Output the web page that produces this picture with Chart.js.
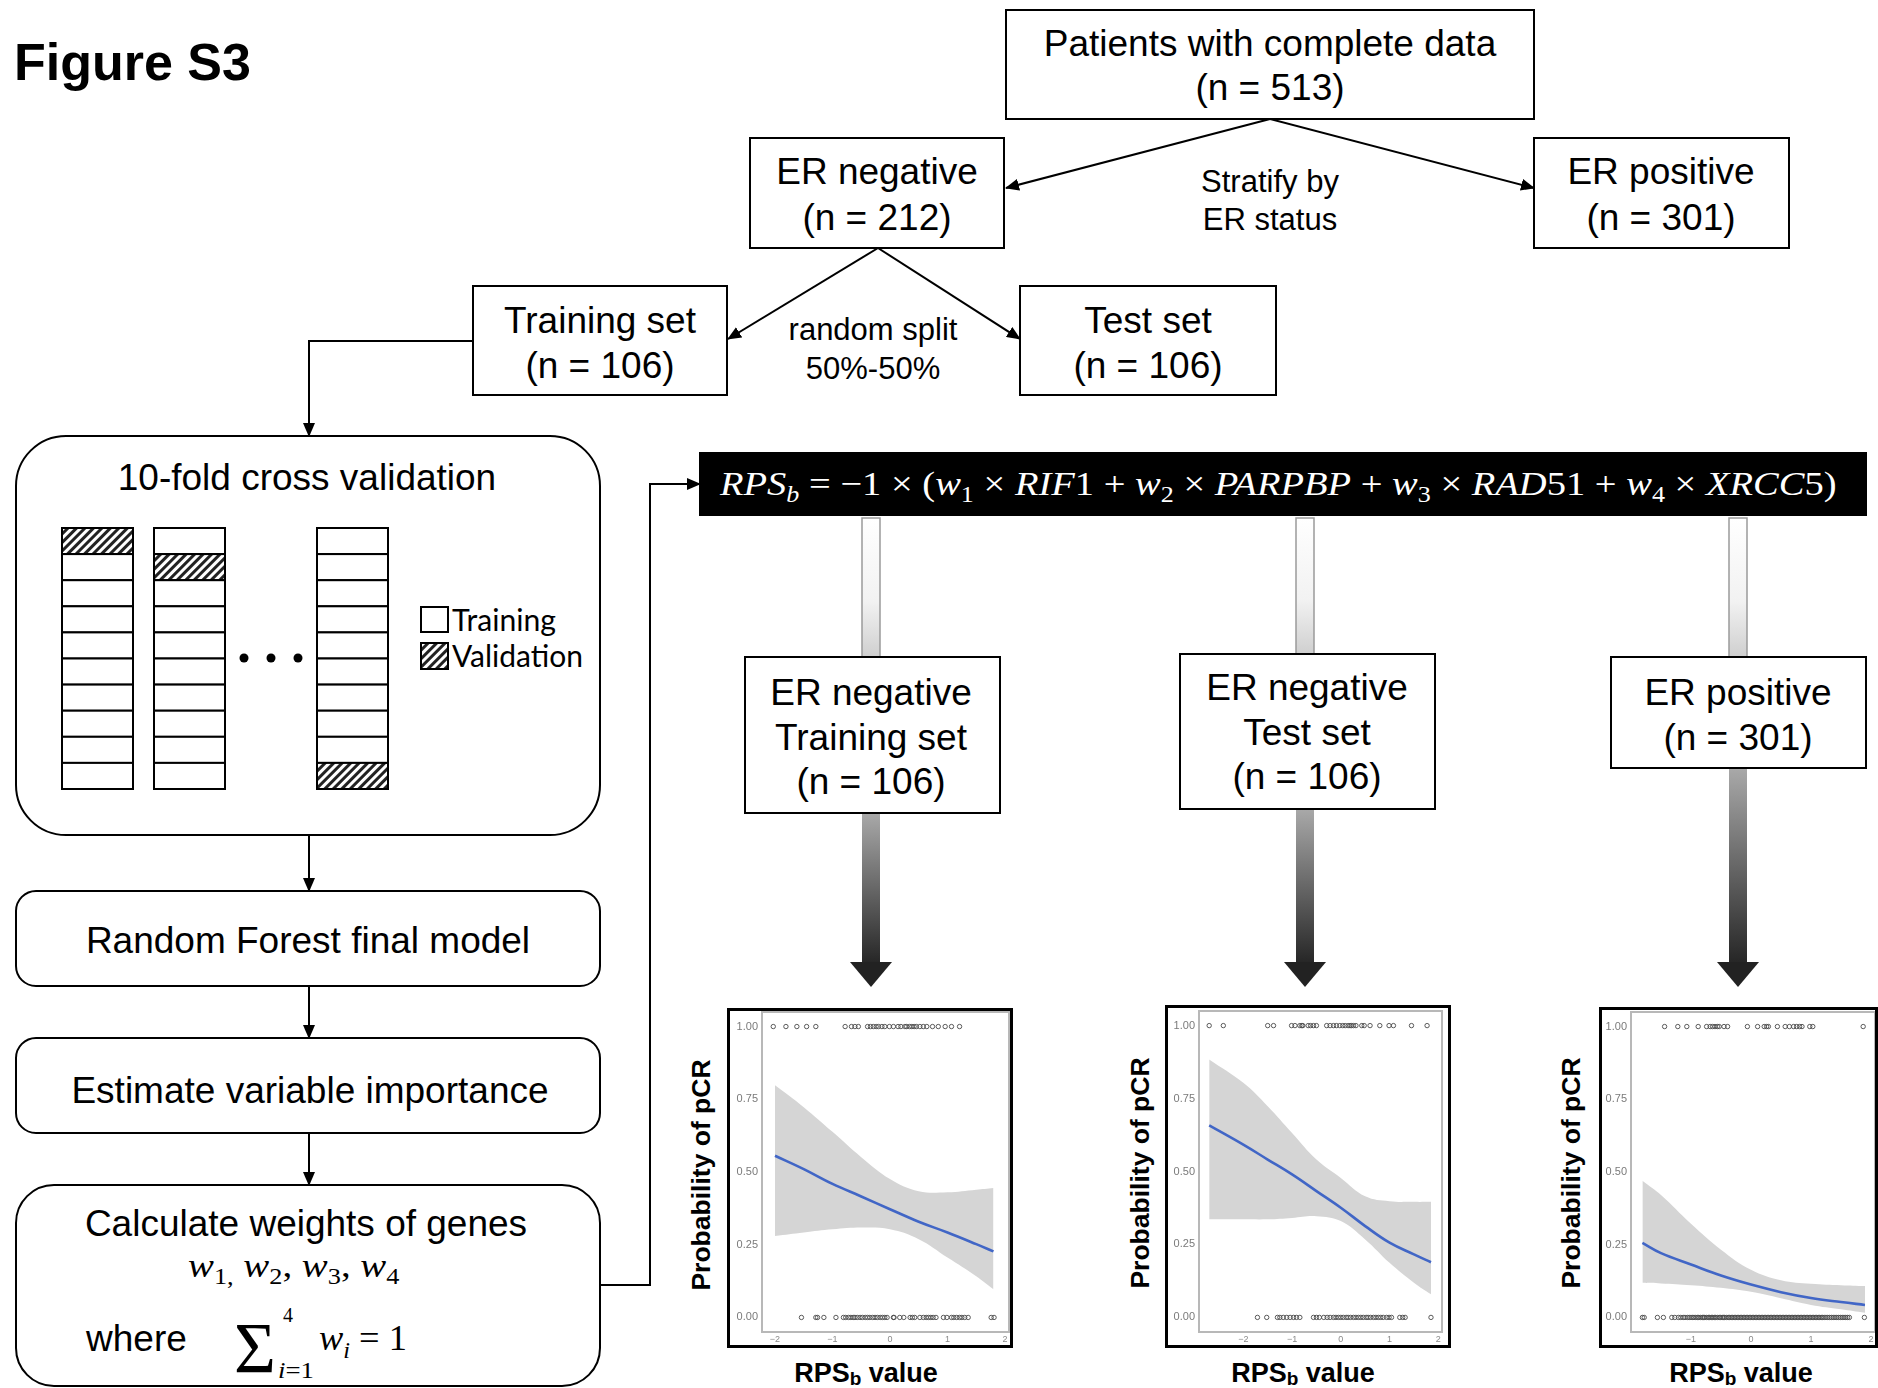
<!DOCTYPE html>
<html>
<head>
<meta charset="utf-8">
<script src="https://cdn.jsdelivr.net/npm/chart.js"></script>
<title>Figure S3</title>
<style>
    body { margin: 0; background: #fff; }
    #page { position: relative; width: 1878px; height: 1388px; overflow: hidden; font-family: "Liberation Sans", Arial, sans-serif; }
    #flow { position: absolute; left: 0; top: 0; }
    .frame { position: absolute; border: 3px solid #000; box-sizing: border-box; background: #fff; }
    .frame canvas { display: block; }
    .ytitle { position: absolute; font-weight: bold; font-size: 26.5px; white-space: nowrap; transform: translate(-50%, -50%) rotate(-90deg); }
    .xtitle { position: absolute; font-weight: bold; font-size: 27px; white-space: nowrap; transform: translate(-50%, -50%); }
    .xtitle span { font-size: 19px; position: relative; top: 3px; }
</style>
</head>
<body>
<div id="page">
<svg id="flow" width="1878" height="1388" xmlns="http://www.w3.org/2000/svg">
    <defs>
        <marker id="ah" markerWidth="14" markerHeight="12" refX="13" refY="6" orient="auto" markerUnits="userSpaceOnUse">
            <path d="M0,0 L14,6 L0,12 z" fill="#000"/>
        </marker>
        <pattern id="hatch" width="6" height="6" patternUnits="userSpaceOnUse" patternTransform="rotate(45)">
            <rect width="6" height="6" fill="#fff"/>
            <rect x="0" y="0" width="3" height="6" fill="#222"/>
        </pattern>
        <linearGradient id="upGrad" x1="0" y1="0" x2="0" y2="1">
            <stop offset="0" stop-color="#ffffff"/>
            <stop offset="0.6" stop-color="#f2f2f2"/>
            <stop offset="1" stop-color="#cfcfcf"/>
        </linearGradient>
        <linearGradient id="downGrad" x1="0" y1="0" x2="0" y2="1">
            <stop offset="0" stop-color="#a9a9a9"/>
            <stop offset="1" stop-color="#262626"/>
        </linearGradient>
    </defs>
    <g id="shapes" fill="#fff" stroke="#000" stroke-width="2"></g>
    <g id="texts" font-family="Liberation Sans, Arial, sans-serif" fill="#000"></g>
</svg>
</div>

<script>
// ---- data ----
const yTickValues = [0, 0.25, 0.5, 0.75, 1];

// ER negative, training set
const trainTicksX = [-2, -1, 0, 1, 2];
const trainCurveX = [-2.0, -1.5, -1.0, -0.5, 0.0, 0.5, 1.0, 1.5, 1.8];
const trainFit   = [0.556, 0.510, 0.459, 0.416, 0.372, 0.329, 0.292, 0.252, 0.227];
const trainUpper = [0.798, 0.723, 0.638, 0.551, 0.476, 0.434, 0.430, 0.439, 0.445];
const trainLower = [0.280, 0.292, 0.303, 0.309, 0.303, 0.269, 0.206, 0.142, 0.097];
const trainPcrX = [-2.03, -1.81, -1.62, -1.45, -1.29, -0.78, -0.67, -0.61, -0.55, -0.39, -0.34, -0.29,
    -0.24, -0.20, -0.14, -0.09, -0.01, 0.06, 0.14, 0.19, 0.26, 0.29, 0.34, 0.38, 0.42, 0.46, 0.52,
    0.58, 0.64, 0.74, 0.84, 0.96, 1.07, 1.21];
const trainNoPcrX = [-1.54, -1.29, -1.26, -1.15, -0.94, -0.81, -0.77, -0.72, -0.68, -0.64, -0.61, -0.57,
    -0.52, -0.48, -0.43, -0.39, -0.35, -0.30, -0.26, -0.22, -0.17, -0.13, -0.09, -0.05, 0.06, 0.07,
    0.17, 0.24, 0.35, 0.39, 0.43, 0.52, 0.58, 0.63, 0.67, 0.71, 0.75, 0.80, 0.93, 0.99, 1.07, 1.11,
    1.16, 1.21, 1.25, 1.30, 1.36, 1.76, 1.81];

// ER negative, test set
const testTicksX = [-2, -1, 0, 1, 2];
const testCurveX = [-2.7, -2.0, -1.5, -1.0, -0.5, 0.0, 0.5, 1.0, 1.5, 1.85];
const testFit   = [0.658, 0.592, 0.541, 0.490, 0.433, 0.376, 0.313, 0.256, 0.216, 0.189];
const testUpper = [0.884, 0.804, 0.724, 0.632, 0.541, 0.478, 0.415, 0.398, 0.396, 0.396];
const testLower = [0.336, 0.336, 0.336, 0.341, 0.347, 0.330, 0.267, 0.187, 0.119, 0.079];
const testPcrX = [-2.70, -2.41, -1.50, -1.38, -1.01, -0.94, -0.84, -0.80, -0.78, -0.67, -0.62, -0.56,
    -0.50, -0.29, -0.22, -0.15, -0.09, -0.02, 0.04, 0.09, 0.15, 0.19, 0.22, 0.26, 0.31, 0.43, 0.48,
    0.60, 0.80, 0.99, 1.08, 1.45, 1.77];
const testNoPcrX = [-1.71, -1.52, -1.30, -1.25, -1.18, -1.11, -1.04, -0.97, -0.91, -0.84, -0.56, -0.50,
    -0.44, -0.35, -0.28, -0.22, -0.15, -0.10, -0.05, 0.00, 0.05, 0.11, 0.15, 0.20, 0.26, 0.31, 0.36,
    0.41, 0.46, 0.52, 0.56, 0.61, 0.67, 0.72, 0.77, 0.82, 0.87, 0.94, 0.99, 1.04, 1.21, 1.27, 1.32, 1.85];

// ER positive
const posTicksX = [-1, 0, 1, 2];
const posCurveX = [-1.81, -1.5, -1.0, -0.5, 0.0, 0.5, 1.0, 1.5, 1.9];
const posFit   = [0.256, 0.221, 0.182, 0.144, 0.113, 0.087, 0.067, 0.053, 0.043];
const posUpper = [0.470, 0.421, 0.322, 0.233, 0.164, 0.128, 0.116, 0.111, 0.108];
const posLower = [0.119, 0.117, 0.111, 0.102, 0.088, 0.066, 0.043, 0.028, 0.016];
const posPcrX = [-1.44, -1.22, -1.07, -0.88, -0.74, -0.68, -0.64, -0.60, -0.56, -0.53, -0.45, -0.39,
    -0.06, 0.11, 0.22, 0.26, 0.29, 0.44, 0.57, 0.64, 0.71, 0.76, 0.81, 0.85, 0.98, 1.03, 1.87];
const posNoPcrX = [-1.81, -1.78, -1.56, -1.46, -1.32, -1.27, -1.21, -1.17, -1.13, -1.10, -1.06, -1.03,
    -1.00, -0.97, -0.95, -0.92, -0.89, -0.87, -0.84, -0.81, -0.79, -0.77, -0.74, -0.71, -0.69, -0.66,
    -0.64, -0.61, -0.59, -0.56, -0.53, -0.51, -0.48, -0.46, -0.44, -0.41, -0.38, -0.36, -0.33, -0.31,
    -0.28, -0.26, -0.23, -0.21, -0.18, -0.16, -0.13, -0.11, -0.08, -0.06, -0.03, -0.01, 0.02, 0.04,
    0.07, 0.09, 0.12, 0.14, 0.17, 0.19, 0.22, 0.24, 0.27, 0.29, 0.32, 0.34, 0.37, 0.39, 0.42, 0.44,
    0.47, 0.49, 0.52, 0.54, 0.57, 0.59, 0.62, 0.64, 0.67, 0.69, 0.72, 0.74, 0.77, 0.79, 0.82, 0.84,
    0.87, 0.89, 0.92, 0.94, 0.97, 0.99, 1.02, 1.04, 1.07, 1.09, 1.12, 1.14, 1.17, 1.19, 1.22, 1.25,
    1.28, 1.31, 1.34, 1.37, 1.40, 1.43, 1.46, 1.49, 1.52, 1.55, 1.58, 1.61, 1.64, 1.89];

// ---- flowchart drawing ----
const NS = 'http://www.w3.org/2000/svg';
const shapes = document.getElementById('shapes');
const texts = document.getElementById('texts');

function el(parent, tag, attrs, content) {
    const e = document.createElementNS(NS, tag);
    for (const k in attrs) e.setAttribute(k, attrs[k]);
    if (content !== undefined) e.innerHTML = content;
    parent.appendChild(e);
    return e;
}
function box(x, y, w, h, r) {
    el(shapes, 'rect', {x, y, width: w, height: h, rx: r || 0, ry: r || 0});
}
function arrow(points) {
    el(shapes, 'polyline', {points: points.map(p => p.join(',')).join(' '), fill: 'none', 'marker-end': 'url(#ah)'});
}
function label(x, cy, str, size, extra) {
    const attrs = Object.assign({x, y: cy + size * 0.36, 'font-size': size, 'text-anchor': 'middle'}, extra || {});
    return el(texts, 'text', attrs, str);
}
// serif math: parts are [text, italic, subscript]; stretched to a target width if given
function mathText(x, y, size, parts, targetW, fill) {
    let cur = 0, html = '';
    parts.forEach(p => {
        const off = p[2] ? Math.round(size * 0.22) : 0;
        const fs = p[2] ? Math.round(size * 0.68) : size;
        html += `<tspan dy="${off - cur}" font-size="${fs}"${p[1] ? ' font-style="italic"' : ''}>${p[0]}</tspan>`;
        cur = off;
    });
    const t = el(texts, 'text', {x, y, 'font-size': size, 'font-family': 'Liberation Serif, serif',
        fill: fill || '#000', style: 'white-space:pre'}, html);
    if (targetW) {
        const w = t.getBBox().width;
        const s = targetW / w;
        t.setAttribute('transform', `translate(${x} 0) scale(${s} 1) translate(${-x} 0)`);
    }
    return t;
}

// top part
box(1006, 10, 528, 109);
box(750, 138, 254, 110);
box(1534, 138, 255, 110);
box(473, 286, 254, 109);
box(1020, 286, 256, 109);
arrow([[1270, 119], [1006, 188]]);
arrow([[1270, 119], [1534, 188]]);
arrow([[878, 248], [728, 339]]);
arrow([[878, 248], [1020, 339]]);
arrow([[473, 341], [309, 341], [309, 436]]);

// left column
box(16, 436, 584, 399, 50);
box(16, 891, 584, 95, 20);
box(16, 1038, 584, 95, 20);
box(16, 1185, 584, 201, 38);
arrow([[309, 835], [309, 891]]);
arrow([[309, 986], [309, 1038]]);
arrow([[309, 1133], [309, 1185]]);
arrow([[600, 1285], [650, 1285], [650, 484], [700, 484]]);

// cross validation grid
const cvCols = [62, 154, 317];
const cvValid = [0, 1, 9];
cvCols.forEach((cx, c) => {
    for (let r = 0; r < 10; r++) {
        el(shapes, 'rect', {x: cx, y: 528 + r * 26.1, width: 71, height: 26.1,
            fill: r === cvValid[c] ? 'url(#hatch)' : '#fff'});
    }
});
[244, 271, 298].forEach(dx => el(shapes, 'circle', {cx: dx, cy: 658, r: 4.5, fill: '#000', stroke: 'none'}));
el(shapes, 'rect', {x: 421, y: 607, width: 27, height: 25});
el(shapes, 'rect', {x: 421, y: 643, width: 27, height: 26, fill: 'url(#hatch)'});

// formula bar and middle boxes
el(shapes, 'rect', {x: 700, y: 453, width: 1166, height: 62, fill: '#000'});
const midBoxes = [[745, 657, 255, 156], [1180, 654, 255, 155], [1611, 657, 255, 111]];
const shaftX = [871, 1305, 1738];
midBoxes.forEach((b, i) => {
    const cx = shaftX[i];
    el(shapes, 'rect', {x: cx - 9, y: 518, width: 18, height: b[1] - 518, fill: 'url(#upGrad)', stroke: '#9a9a9a', 'stroke-width': 1.5});
    el(shapes, 'rect', {x: cx - 9, y: b[1] + b[3], width: 18, height: 963 - b[1] - b[3], fill: 'url(#downGrad)', stroke: 'none'});
    el(shapes, 'polygon', {points: `${cx - 21},962 ${cx + 21},962 ${cx},987`, fill: '#222', stroke: 'none'});
    box(b[0], b[1], b[2], b[3]);
});

// texts
el(texts, 'text', {x: 14, y: 80, 'font-size': 52, 'font-weight': 'bold'}, 'Figure S3');
label(1270, 43, 'Patients with complete data', 37);
label(1270, 87, '(n = 513)', 37);
label(877, 171, 'ER negative', 37);
label(877, 217, '(n = 212)', 37);
label(1661, 171, 'ER positive', 37);
label(1661, 217, '(n = 301)', 37);
label(1270, 181, 'Stratify by', 31);
label(1270, 219, 'ER status', 31);
label(600, 320, 'Training set', 37);
label(600, 365, '(n = 106)', 37);
label(1148, 320, 'Test set', 37);
label(1148, 365, '(n = 106)', 37);
label(873, 329, 'random split', 31);
label(873, 368, '50%-50%', 31);
label(307, 477, '10-fold cross validation', 37);
label(308, 940, 'Random Forest final model', 37);
label(310, 1090, 'Estimate variable importance', 37);
label(306, 1223, 'Calculate weights of genes', 37);
el(texts, 'text', {x: 452, y: 631, 'font-size': 30, 'font-family': 'Lato', textLength: 104, lengthAdjust: 'spacingAndGlyphs'}, 'Training');
el(texts, 'text', {x: 452, y: 667, 'font-size': 30, 'font-family': 'Lato', textLength: 131, lengthAdjust: 'spacingAndGlyphs'}, 'Validation');

label(871, 692, 'ER negative', 37);
label(871, 737, 'Training set', 37);
label(871, 781, '(n = 106)', 37);
label(1307, 687, 'ER negative', 37);
label(1307, 732, 'Test set', 37);
label(1307, 776, '(n = 106)', 37);
label(1738, 692, 'ER positive', 37);
label(1738, 737, '(n = 301)', 37);

// math
mathText(720, 495, 34, [
    ['RPS', 1], ['b', 1, 1], [' = −1 × (', 0], ['w', 1], ['1', 0, 1], [' × ', 0], ['RIF', 1], ['1 + ', 0],
    ['w', 1], ['2', 0, 1], [' × ', 0], ['PARPBP', 1], [' + ', 0], ['w', 1], ['3', 0, 1], [' × ', 0],
    ['RAD', 1], ['51 + ', 0], ['w', 1], ['4', 0, 1], [' × ', 0], ['XRCC', 1], ['5)', 0]
], 1118, '#fff');
mathText(188, 1277, 34, [
    ['w', 1], ['1,', 0, 1], [' ', 0], ['w', 1], ['2', 0, 1], [', ', 0], ['w', 1], ['3', 0, 1], [', ', 0],
    ['w', 1], ['4', 0, 1]
], 212);
el(texts, 'text', {x: 86, y: 1351, 'font-size': 37}, 'where');
el(texts, 'text', {x: 234, y: 1372, 'font-size': 72, 'font-family': 'Liberation Serif, serif'}, 'Σ');
el(texts, 'text', {x: 283, y: 1322, 'font-size': 20, 'font-family': 'Liberation Serif, serif'}, '4');
mathText(278, 1378, 24, [['i', 1], ['=1', 0]], 36);
mathText(319, 1350, 36, [['w', 1], ['i', 1, 1], [' = 1', 0]], 88);

// ---- logistic plots ----
const panelBorder = {
    id: 'panelBorder',
    beforeDatasetsDraw(chart) {
        const {ctx, chartArea: a} = chart;
        ctx.save();
        ctx.strokeStyle = '#b8b8b8';
        ctx.lineWidth = 2;
        ctx.strokeRect(a.left, a.top, a.width, a.height);
        ctx.restore();
    }
};

function fmtX(v) {
    return v < 0 ? '\u2212' + Math.abs(v) : String(v);
}

function makePlot(p) {
    const page = document.getElementById('page');
    const div = document.createElement('div');
    div.className = 'frame';
    div.style.left = p.frame[0] + 'px';
    div.style.top = p.frame[1] + 'px';
    div.style.width = p.frame[2] + 'px';
    div.style.height = p.frame[3] + 'px';
    const cv = document.createElement('canvas');
    const ix = p.frame[0] + 3, iy = p.frame[1] + 3;
    const iw = p.frame[2] - 6, ih = p.frame[3] - 6;
    cv.width = iw;
    cv.height = ih;
    div.appendChild(cv);
    page.appendChild(div);

    const yt = document.createElement('div');
    yt.className = 'ytitle';
    yt.style.left = p.yTitle[0] + 'px';
    yt.style.top = p.yTitle[1] + 'px';
    yt.textContent = 'Probability of pCR';
    page.appendChild(yt);
    const xt = document.createElement('div');
    xt.className = 'xtitle';
    xt.style.left = p.xTitle[0] + 'px';
    xt.style.top = p.xTitle[1] + 'px';
    xt.innerHTML = 'RPS<span>b</span> value';
    page.appendChild(xt);

    const padL = p.panel[0] - ix, padT = p.panel[1] - iy;
    const padR = ix + iw - p.panel[2], padB = iy + ih - p.panel[3];
    const band = {showLine: true, pointRadius: 0, borderWidth: 0, borderColor: 'rgba(0,0,0,0)',
        tension: 0.4, order: 3};
    const dots = {pointRadius: 2.2, pointBorderWidth: 0.9, pointBorderColor: '#4a4a4a',
        pointBackgroundColor: 'rgba(0,0,0,0)', order: 1};

    new Chart(cv, {
        type: 'scatter',
        data: {
            datasets: [
                Object.assign({data: p.curveX.map((x, i) => ({x, y: p.upper[i]})), fill: '+1', backgroundColor: '#d5d5d5'}, band),
                Object.assign({data: p.curveX.map((x, i) => ({x, y: p.lower[i]})), fill: false}, band),
                {data: p.curveX.map((x, i) => ({x, y: p.fit[i]})), showLine: true, pointRadius: 0,
                    borderColor: '#4166c6', borderWidth: 2.6, tension: 0.4, fill: false, order: 0},
                Object.assign({data: p.pcrX.map(x => ({x, y: 1}))}, dots),
                Object.assign({data: p.noPcrX.map(x => ({x, y: 0}))}, dots)
            ]
        },
        options: {
            responsive: false,
            animation: false,
            layout: {autoPadding: false, padding: {top: padT, right: padR, left: 0, bottom: 0}},
            plugins: {legend: {display: false}, tooltip: {enabled: false}},
            scales: {
                x: {
                    type: 'linear', min: p.xRange[0], max: p.xRange[1],
                    afterBuildTicks: s => { s.ticks = p.ticksX.map(v => ({value: v})); },
                    afterFit: s => { s.height = padB; s.paddingLeft = 0; s.paddingRight = 0; },
                    grid: {display: false, drawTicks: false},
                    border: {display: false},
                    ticks: {color: '#8a8a8a', font: {size: 9, family: 'Liberation Sans'}, padding: 2,
                        maxRotation: 0, autoSkip: false, callback: v => fmtX(v)}
                },
                y: {
                    min: -0.05, max: 1.05,
                    afterBuildTicks: s => { s.ticks = yTickValues.map(v => ({value: v})); },
                    afterFit: s => { s.width = padL; s.paddingTop = 0; s.paddingBottom = 0; },
                    grid: {display: false, drawTicks: false},
                    border: {display: false},
                    ticks: {color: '#7a7a7a', font: {size: 11, family: 'Liberation Sans'}, padding: 4,
                        callback: v => v.toFixed(2)}
                }
            }
        },
        plugins: [panelBorder]
    });
}

makePlot({frame: [727, 1008, 286, 340], panel: [762, 1012, 1009, 1332], xRange: [-2.226, 2.07],
    yTitle: [701, 1175], xTitle: [866, 1373], ticksX: trainTicksX, curveX: trainCurveX,
    fit: trainFit, upper: trainUpper, lower: trainLower, pcrX: trainPcrX, noPcrX: trainNoPcrX});
makePlot({frame: [1165, 1005, 286, 343], panel: [1199, 1011, 1442, 1332], xRange: [-2.909, 2.076],
    yTitle: [1140, 1173], xTitle: [1303, 1373], ticksX: testTicksX, curveX: testCurveX,
    fit: testFit, upper: testUpper, lower: testLower, pcrX: testPcrX, noPcrX: testNoPcrX});
makePlot({frame: [1599, 1007, 279, 341], panel: [1631, 1012, 1875, 1332], xRange: [-2.0, 2.067],
    yTitle: [1571, 1173], xTitle: [1741, 1373], ticksX: posTicksX, curveX: posCurveX,
    fit: posFit, upper: posUpper, lower: posLower, pcrX: posPcrX, noPcrX: posNoPcrX});
</script>
</body>
</html>
